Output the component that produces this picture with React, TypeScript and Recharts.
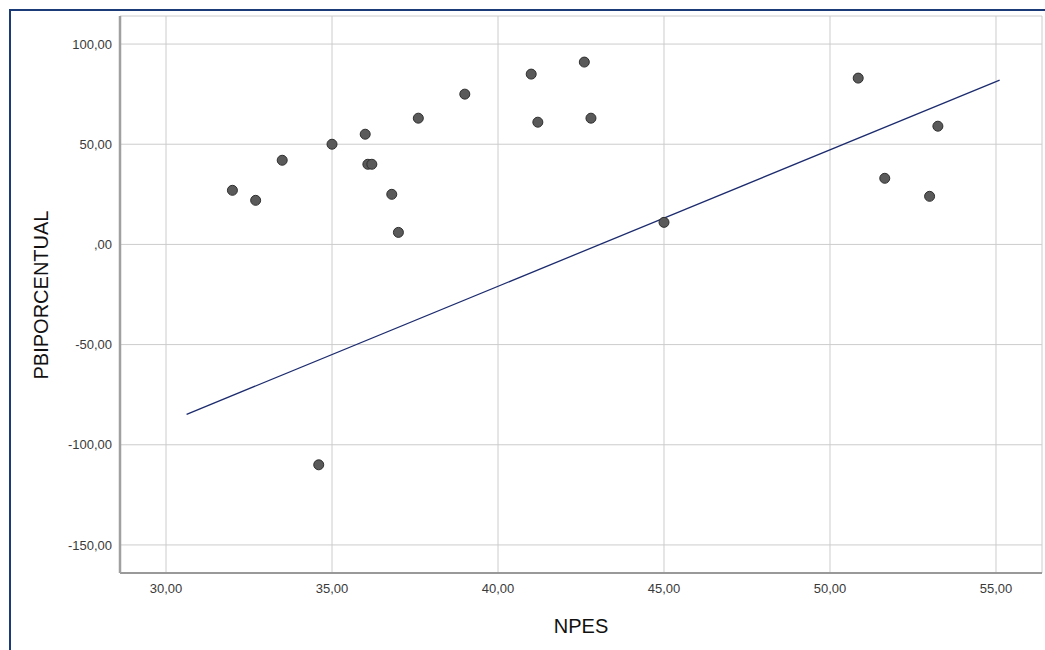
import { ScatterChart, Scatter, XAxis, YAxis, CartesianGrid } from 'recharts';

// NPES (x) and PBIPORCENTUAL (y), one entry per case
const npes = [32.0, 32.7, 33.5, 35.0, 36.0, 36.08, 36.2, 36.8, 37.0, 37.6, 39.0, 41.0, 41.2, 42.6, 42.8, 45.0, 50.85, 51.65, 53.0, 53.25, 34.6];
const pbi = [27, 22, 42, 50, 55, 40, 40, 25, 6, 63, 75, 85, 61, 91, 63, 11, 83, 33, 24, 59, -110];

// fit line end points
const fitNpes = [30.62, 55.11];
const fitPbi = [-84.8, 82];

const xTicks = [30, 35, 40, 45, 50, 55];
const yTicks = [-150, -100, -50, 0, 50, 100];

const points = npes.map((x, i) => ({ x, y: pbi[i] }));
const fitLine = fitNpes.map((x, i) => ({ x, y: fitPbi[i] }));

const fmt = (v: number) => (v === 0 ? ',00' : v.toFixed(2).replace('.', ','));

const font = '"Liberation Sans", Arial, sans-serif';
const tickStyle = { fontSize: 13, fill: '#3a3a3a', fontFamily: font };

function Dot(props: any) {
  return <circle cx={props.cx} cy={props.cy} r={5} fill="#5a5a5a" stroke="#2f2f2f" strokeWidth={1} />;
}

export default function App() {
  return (
    <div style={{ position: 'fixed', left: 0, top: 0, width: 1045, height: 650, background: '#fff', overflow: 'hidden' }}>
      <div style={{ position: 'absolute', left: 9, top: 9, width: 1100, height: 700, border: '2px solid #1b3a78' }} />
      <div style={{ position: 'absolute', left: 0, top: 0 }}>
        <ScatterChart width={1045} height={650} margin={{ top: 16, right: 3, left: 0, bottom: 47 }}>
          <CartesianGrid
            horizontal={{ stroke: '#9c9c9c', strokeWidth: 1 } as any}
            vertical={{ stroke: '#d6d6d6', strokeWidth: 2.5 } as any}
          />
          <XAxis
            type="number"
            dataKey="x"
            domain={[28.614, 56.386]}
            ticks={xTicks}
            allowDataOverflow
            tickFormatter={fmt}
            tickLine={false}
            tickMargin={5}
            height={30}
            axisLine={{ stroke: '#999', strokeWidth: 2 }}
            tick={tickStyle}
          />
          <YAxis
            type="number"
            dataKey="y"
            domain={[-164, 114]}
            ticks={yTicks}
            allowDataOverflow
            tickFormatter={fmt}
            tickLine={false}
            width={120}
            axisLine={{ stroke: '#a0a0a0', strokeWidth: 2.5 }}
            tick={tickStyle}
          />
          <Scatter data={fitLine} line={{ stroke: '#1c2b6e', strokeWidth: 1.3 }} shape={() => <g />} isAnimationActive={false} />
          <Scatter data={points} shape={Dot} isAnimationActive={false} />
        </ScatterChart>
      </div>
      <div
        style={{
          position: 'absolute',
          left: 581,
          top: 616,
          transform: 'translateX(-50%)',
          fontFamily: font,
          fontSize: 20,
          lineHeight: '20px',
          color: '#111',
          whiteSpace: 'nowrap',
        }}
      >
        NPES
      </div>
      <div
        style={{
          position: 'absolute',
          left: 41,
          top: 295,
          transform: 'translate(-50%, -50%) rotate(-90deg)',
          fontFamily: font,
          fontSize: 20,
          lineHeight: '20px',
          color: '#111',
          whiteSpace: 'nowrap',
        }}
      >
        PBIPORCENTUAL
      </div>
    </div>
  );
}
